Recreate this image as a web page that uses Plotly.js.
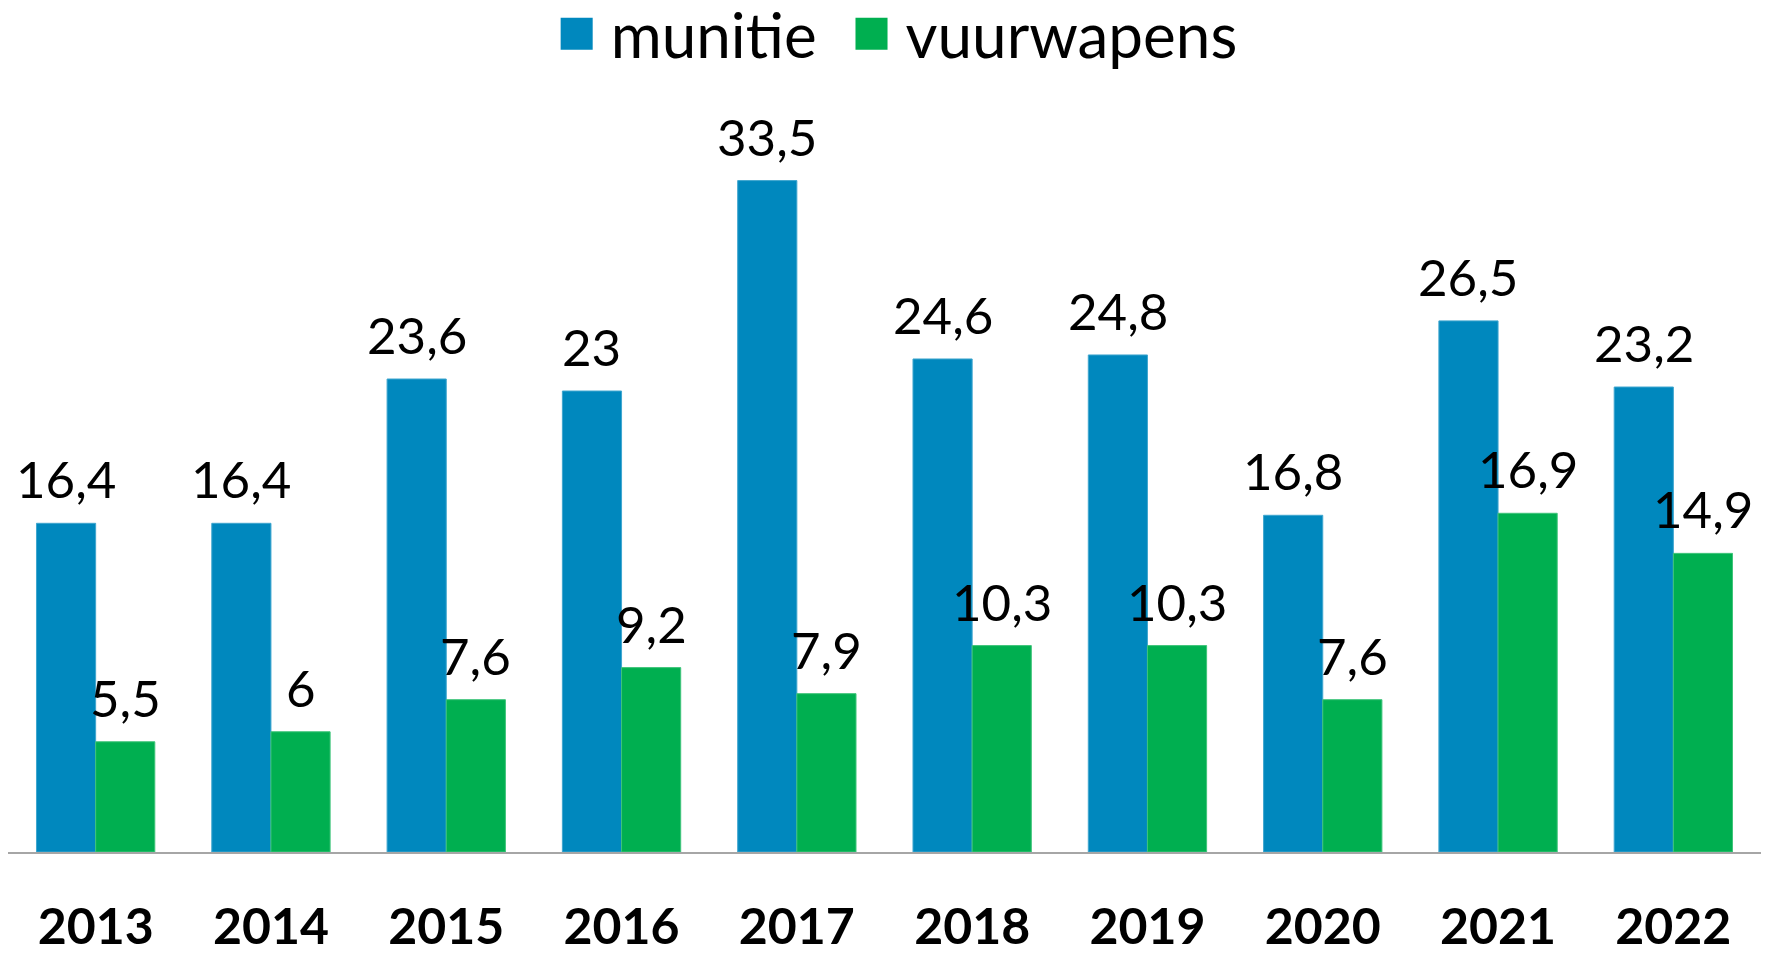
<!DOCTYPE html>
<html>
<head>
<meta charset="utf-8">
<script src="https://cdn.plot.ly/plotly-3.0.1.min.js"></script>
<style>
  html, body { margin: 0; padding: 0; background: #fff; }
  #chart { width: 1769px; height: 955px; }
</style>
</head>
<body>
<div id="chart"></div>
<script>
const years = ["2013", "2014", "2015", "2016", "2017", "2018", "2019", "2020", "2021", "2022"];
const munitie = [16.4, 16.4, 23.6, 23, 33.5, 24.6, 24.8, 16.8, 26.5, 23.2];
const vuurwapens = [5.5, 6, 7.6, 9.2, 7.9, 10.3, 10.3, 7.6, 16.9, 14.9];
const seriesNames = ["munitie", "vuurwapens"];

const fmt = v => String(v).replace('.', ',');
const FONT = "Lato, 'Noto Sans', sans-serif";
const labelFont = { family: FONT, size: 51, color: "#000" };

const W = 1769, H = 955;
const margin = { l: 8, r: 8, t: 78, b: 103, pad: 0 };
const bargap = 0.325;
const plotW = W - margin.l - margin.r;
const barHalf = plotW / years.length * (1 - bargap) / 4;

const traces = [
  {
    type: "bar", name: seriesNames[0] + "\u00a0", x: years, y: munitie,
    marker: { color: "#0088BE", line: { color: "#3FA6CF", width: 1 } },
    hoverinfo: "x+y"
  },
  {
    type: "bar", name: seriesNames[1], x: years, y: vuurwapens,
    marker: { color: "#00AF50", line: { color: "#3FC47A", width: 1 } },
    hoverinfo: "x+y"
  }
];

const annotations = [];
[munitie, vuurwapens].forEach((series, si) => {
  series.forEach((v, i) => {
    annotations.push({
      x: i, y: v, xref: "x", yref: "y",
      text: fmt(v), showarrow: false,
      xanchor: "center", yanchor: "bottom",
      xshift: si === 0 ? -barHalf : barHalf, yshift: 12,
      font: labelFont
    });
  });
});

const layout = {
  width: W, height: H,
  margin: margin,
  paper_bgcolor: "#fff", plot_bgcolor: "#fff",
  barmode: "group", bargap: bargap, bargroupgap: 0,
  showlegend: true,
  legend: {
    orientation: "h", x: 0.305, xanchor: "left", xref: "paper",
    y: 1 - 34 / H, yanchor: "middle", yref: "container",
    itemwidth: 58,
    font: { family: FONT, size: 62, color: "#000" },
    bgcolor: "rgba(0,0,0,0)", borderwidth: 0, traceorder: "normal"
  },
  annotations: annotations,
  xaxis: {
    type: "category", categoryarray: years, categoryorder: "array",
    range: [-0.5, years.length - 0.5],
    showline: true, linecolor: "#A6A6A6", linewidth: 1.5,
    showgrid: false, zeroline: false,
    ticks: "outside", ticklen: 30, tickcolor: "rgba(0,0,0,0)",
    tickfont: { family: FONT, size: 50, color: "#000", weight: "bold" }
  },
  yaxis: {
    visible: false, range: [0, (H - margin.t - margin.b) / 20.12], showgrid: false, zeroline: false, fixedrange: true
  },
  font: { family: FONT }
};

Plotly.newPlot("chart", traces, layout, { displayModeBar: false, staticPlot: true }).then(() => {
  // enlarge legend swatches to match the reference's 32px squares
  document.querySelectorAll('.legend .legendpoints path').forEach(p => {
    const t = p.getAttribute('transform') || '';
    p.setAttribute('transform', t + ' scale(2.67,2.67)');
    p.style.strokeWidth = '0';
  });
});
</script>
</body>
</html>
